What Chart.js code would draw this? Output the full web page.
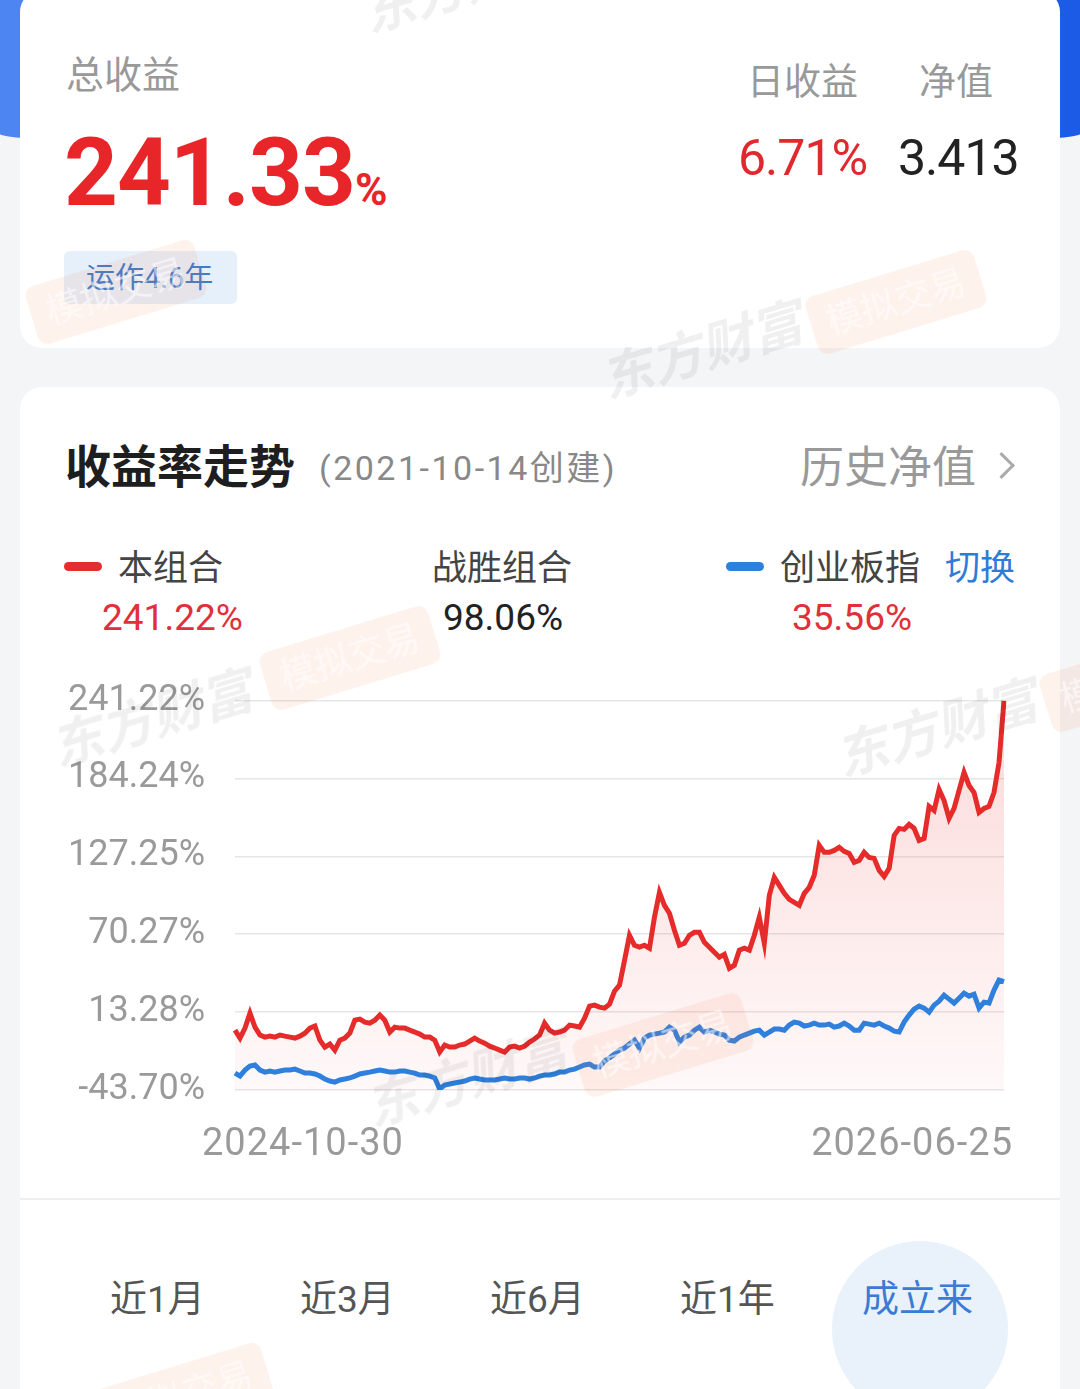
<!DOCTYPE html>
<html lang="zh-CN">
<head>
<meta charset="UTF-8">
<title>收益率走势</title>
<script src="https://cdn.jsdelivr.net/npm/chart.js"></script>
<style>
  body {
    margin: 0;
    width: 1080px;
    height: 1389px;
    overflow: hidden;
    position: relative;
    background: #f4f5f7;
    font-family: Roboto, "Noto Sans CJK SC", sans-serif;
  }
  /* blue header band behind the first card */
  .band {
    position: absolute; left: 0; top: 0; width: 1080px; height: 148px;
    background: linear-gradient(90deg, #4d86f2, #1c5be6);
    border-radius: 0 0 50% 50% / 0 0 14px 14px;
  }
  .card { position: absolute; left: 20px; width: 1040px; background: #fff; border-radius: 22px; }
  .card1 { top: -10px; height: 358px; }
  .card2 { top: 387px; height: 1040px; }
  .t { position: absolute; white-space: nowrap; line-height: 1; }
  .grey { color: #999; }
  .red { color: #e0292e; }
  .dark { color: #222; }
  .tag {
    position: absolute; left: 64px; top: 251px; width: 173px; height: 53px;
    background: #e6f0fb; border-radius: 6px;
  }
  .dash { position: absolute; width: 38px; height: 9px; border-radius: 5px; top: 562px; }
  .chev {
    position: absolute; left: 992px; top: 456px; width: 16px; height: 16px;
    border-top: 3px solid #aaa; border-right: 3px solid #aaa; transform: rotate(45deg);
  }
  .sep { position: absolute; left: 20px; top: 1198px; width: 1040px; height: 2px; background: #efefef; }
  .pill { position: absolute; left: 832px; top: 1241px; width: 176px; height: 176px; border-radius: 50%; background: #e9f1fb; }
  .chart-box { position: absolute; left: 0; top: 649px; width: 1080px; height: 531px; }
  /* watermarks */
  .wm { position: absolute; white-space: nowrap; line-height: 1; pointer-events: none; transform: rotate(-17deg); z-index: 5; }
  .wm-text { font-size: 52px; font-weight: 700; color: rgba(0,0,0,0.06); font-style: italic; }
  .wm-box {
    font-size: 36px; color: rgba(255,255,255,0.55); background: rgba(245,110,60,0.09);
    padding: 12px 16px; border-radius: 10px;
  }
</style>
</head>
<body>
<div class="band"></div>

<div class="card card1"></div>
<div class="t grey" style="left:66px; top:56px; font-size:38px;">总收益</div>
<div class="t" style="left:64px; top:126px; font-size:94px; font-weight:700; color:#e8262a; letter-spacing:-1px;">241.33<span style="font-size:44px; letter-spacing:0;">%</span></div>
<div class="tag"></div>
<div class="t" style="left:86px; top:264px; font-size:29px; color:#3f7ccc;">运作4.6年</div>
<div class="t grey" style="left:747px; top:64px; font-size:37px;">日收益</div>
<div class="t grey" style="left:919px; top:64px; font-size:37px;">净值</div>
<div class="t red" style="left:738px; top:133px; font-size:50px; letter-spacing:-1px;">6.71%</div>
<div class="t dark" style="left:898px; top:133px; font-size:50px; letter-spacing:-1px;">3.413</div>

<div class="card card2"></div>
<div class="t" style="left:65px; top:444px; font-size:46px; font-weight:700; color:#1e1e1e;">收益率走势</div>
<div class="t" style="left:319px; top:451px; font-size:34px; color:#888; letter-spacing:2.5px;">(2021-10-14创建)</div>
<div class="t grey" style="left:800px; top:446px; font-size:44px;">历史净值</div>
<div class="chev"></div>

<div class="dash" style="left:64px; background:#e52d2d;"></div>
<div class="t" style="left:118px; top:551px; font-size:35px; color:#444;">本组合</div>
<div class="t" style="left:102px; top:599px; font-size:37px; color:#e0303a;">241.22%</div>
<div class="t" style="left:432px; top:551px; font-size:35px; color:#444;">战胜组合</div>
<div class="t dark" style="left:443px; top:599px; font-size:37px;">98.06%</div>
<div class="dash" style="left:726px; background:#2f7fdc;"></div>
<div class="t" style="left:780px; top:551px; font-size:35px; color:#444;">创业板指</div>
<div class="t" style="left:945px; top:551px; font-size:35px; color:#2f7bd8;">切换</div>
<div class="t" style="left:792px; top:599px; font-size:37px; color:#e0303a;">35.56%</div>

<div class="chart-box"><canvas id="returnChart"></canvas></div>

<div class="sep"></div>
<div class="pill"></div>
<div class="t" style="left:110px; top:1281px; font-size:37px; color:#555;">近1月</div>
<div class="t" style="left:300px; top:1281px; font-size:37px; color:#555;">近3月</div>
<div class="t" style="left:490px; top:1281px; font-size:37px; color:#555;">近6月</div>
<div class="t" style="left:680px; top:1281px; font-size:37px; color:#555;">近1年</div>
<div class="t" style="left:862px; top:1281px; font-size:37px; color:#3a7bd5;">成立来</div>

<!-- watermarks -->
<div class="wm wm-text" style="left:598px; top:326px;">东方财富</div>
<div class="wm wm-text" style="left:48px; top:694px;">东方财富</div>
<div class="wm wm-text" style="left:833px; top:704px;">东方财富</div>
<div class="wm wm-text" style="left:363px; top:1054px;">东方财富</div>
<div class="wm wm-text" style="left:360px; top:-40px;">东方财富</div>
<div class="wm wm-box" style="left:28px; top:262px;">模拟交易</div>
<div class="wm wm-box" style="left:808px; top:272px;">模拟交易</div>
<div class="wm wm-box" style="left:262px; top:628px;">模拟交易</div>
<div class="wm wm-box" style="left:575px; top:1015px;">模拟交易</div>
<div class="wm wm-box" style="left:1042px; top:650px;">模拟交易</div>
<div class="wm wm-box" style="left:95px; top:1365px;">模拟交易</div>

<script>
// 收益率 (%), 本组合 与 创业板指, 自 2024-10-30 至 2026-06-25
const portfolioReturn = [
  0.1, -5.7, 1.6, 12.5, 2.3, -3.5, -5.0, -4.3, -5.0, -3.5,
  -4.3, -5.0, -5.7, -4.3, -2.1, 1.6, 3.1, -7.2, -12.3, -10.1,
  -14.5, -7.2, -5.7, -2.1, 7.4, 8.2, 6.0, 5.2, 7.4, 11.1,
  7.4, -1.3, 2.3, 1.6, 1.6, 0.1, -1.3, -2.8, -5.0, -5.0,
  -7.2, -15.9, -10.8, -12.3, -12.3, -10.8, -10.1, -7.9, -5.7, -7.9,
  -9.4, -11.6, -13.0, -14.5, -15.9, -12.3, -11.6, -13.0, -11.6, -8.6,
  -6.4, -3.5, 5.2, 0.1, -2.1, -1.3, 0.1, 3.8, 3.1, 2.3,
  8.9, 17.7, 18.4, 16.9, 16.2, 19.1, 28.6, 33.0, 51.0, 69.5,
  62.2, 60.8, 62.2, 60.0, 82.7, 100.9, 91.4, 85.6, 73.2, 62.2,
  63.7, 69.5, 71.7, 71.7, 64.4, 60.8, 57.1, 53.5, 55.6, 45.4,
  47.6, 58.6, 60.0, 58.6, 69.5, 82.7, 63.7, 98.7, 111.9, 106.0,
  100.2, 95.8, 93.6, 91.4, 100.2, 104.6, 113.4, 135.3, 130.2, 130.2,
  131.6, 133.8, 130.9, 129.4, 122.9, 124.3, 130.2, 126.5, 125.8, 117.0,
  112.6, 118.5, 142.6, 147.7, 147.0, 150.6, 147.7, 138.9, 140.4, 163.8,
  160.8, 176.2, 168.1, 155.0, 162.3, 175.5, 188.6, 179.1, 174.0, 159.4,
  162.3, 163.8, 174.0, 195.9, 241.22
];
const benchmarkReturn = [
  -31.3, -33.5, -29.1, -26.2, -25.4, -29.1, -30.6, -29.8, -30.6, -29.8,
  -29.1, -29.1, -28.4, -29.8, -31.3, -31.3, -32.0, -33.5, -35.7, -37.1,
  -37.9, -36.4, -35.7, -34.9, -33.5, -32.0, -31.3, -30.6, -29.8, -29.1,
  -29.8, -30.6, -30.6, -29.8, -29.8, -30.6, -31.3, -32.7, -32.7, -33.5,
  -34.9, -43.0, -40.1, -39.3, -38.6, -37.9, -37.1, -35.7, -34.9, -35.7,
  -36.4, -36.4, -36.4, -35.7, -34.9, -35.7, -35.7, -34.9, -34.9, -35.7,
  -34.9, -33.5, -32.7, -32.7, -32.0, -30.6, -30.6, -29.1, -28.4, -26.9,
  -25.4, -24.7, -26.9, -26.9, -22.5, -20.3, -17.4, -14.5, -13.0, -10.1,
  -7.2, -13.0, -5.7, -3.5, -2.8, -2.1, -1.3, 2.3, 0.1, -8.6,
  -5.0, -3.5, 0.1, 2.3, -1.3, 0.1, -1.3, -2.8, -3.5, -7.2,
  -7.9, -5.0, -3.5, -2.1, -0.6, 0.1, -3.5, -1.3, 0.9, 0.9,
  0.1, 3.8, 6.0, 5.2, 3.1, 3.8, 5.2, 3.8, 3.8, 4.5,
  2.3, 3.1, 5.2, 3.1, 0.1, 0.1, 5.2, 4.5, 3.8, 5.2,
  3.1, 1.6, -0.6, -1.3, 6.0, 11.1, 15.5, 17.7, 16.2, 13.3,
  18.4, 21.3, 25.7, 22.8, 19.9, 23.5, 27.2, 25.0, 26.4, 16.2,
  20.6, 19.9, 29.4, 36.7, 35.56
];
const yTicks = [241.22, 184.24, 127.25, 70.27, 13.28, -43.70];
const xAxisLabels = ['2024-10-30', '2026-06-25'];

// 起止日期画在横轴下方
const dateLabels = {
  id: 'dateLabels',
  afterDraw(chart) {
    const { ctx, chartArea } = chart;
    ctx.save();
    ctx.font = '38px Roboto';
    ctx.letterSpacing = '1px';
    ctx.fillStyle = '#9a9a9a';
    ctx.textBaseline = 'middle';
    ctx.textAlign = 'left';
    ctx.fillText(xAxisLabels[0], chartArea.left - 33, chartArea.bottom + 55);
    ctx.textAlign = 'right';
    ctx.fillText(xAxisLabels[1], chartArea.right + 9, chartArea.bottom + 55);
    ctx.restore();
  }
};

const ctx = document.getElementById('returnChart').getContext('2d');
new Chart(ctx, {
  type: 'line',
  data: {
    labels: portfolioReturn.map((_, i) => i),
    datasets: [
      {
        label: '本组合',
        data: portfolioReturn,
        borderColor: '#e62b2b',
        borderWidth: 5,
        pointRadius: 0,
        tension: 0,
        order: 2,
        fill: 'start',
        backgroundColor: function(context) {
          const area = context.chart.chartArea;
          if (!area) return 'rgba(235,45,45,0.1)';
          const g = context.chart.ctx.createLinearGradient(0, area.top, 0, area.bottom);
          g.addColorStop(0, 'rgba(235,45,45,0.18)');
          g.addColorStop(1, 'rgba(235,45,45,0.03)');
          return g;
        }
      },
      {
        label: '创业板指',
        data: benchmarkReturn,
        borderColor: '#2f7fdc',
        borderWidth: 5,
        pointRadius: 0,
        tension: 0,
        order: 1,
        fill: false
      }
    ]
  },
  options: {
    responsive: true,
    maintainAspectRatio: false,
    animation: false,
    layout: { padding: { left: 0, right: 76, top: 20, bottom: 90 } },
    plugins: { legend: { display: false }, tooltip: { enabled: false } },
    scales: {
      x: { display: false },
      y: {
        min: -43.70,
        max: 241.22,
        afterFit: function(scale) { scale.width = 235; },
        afterBuildTicks: function(scale) { scale.ticks = yTicks.map(v => ({ value: v })); },
        ticks: {
          padding: 30,
          color: '#9a9a9a',
          font: { family: 'Roboto', size: 36 },
          callback: v => v.toFixed(2) + '%'
        },
        grid: { color: '#e6e6e6', lineWidth: 1.5, drawTicks: false },
        border: { display: false }
      }
    }
  },
  plugins: [dateLabels]
});
</script>
</body>
</html>
